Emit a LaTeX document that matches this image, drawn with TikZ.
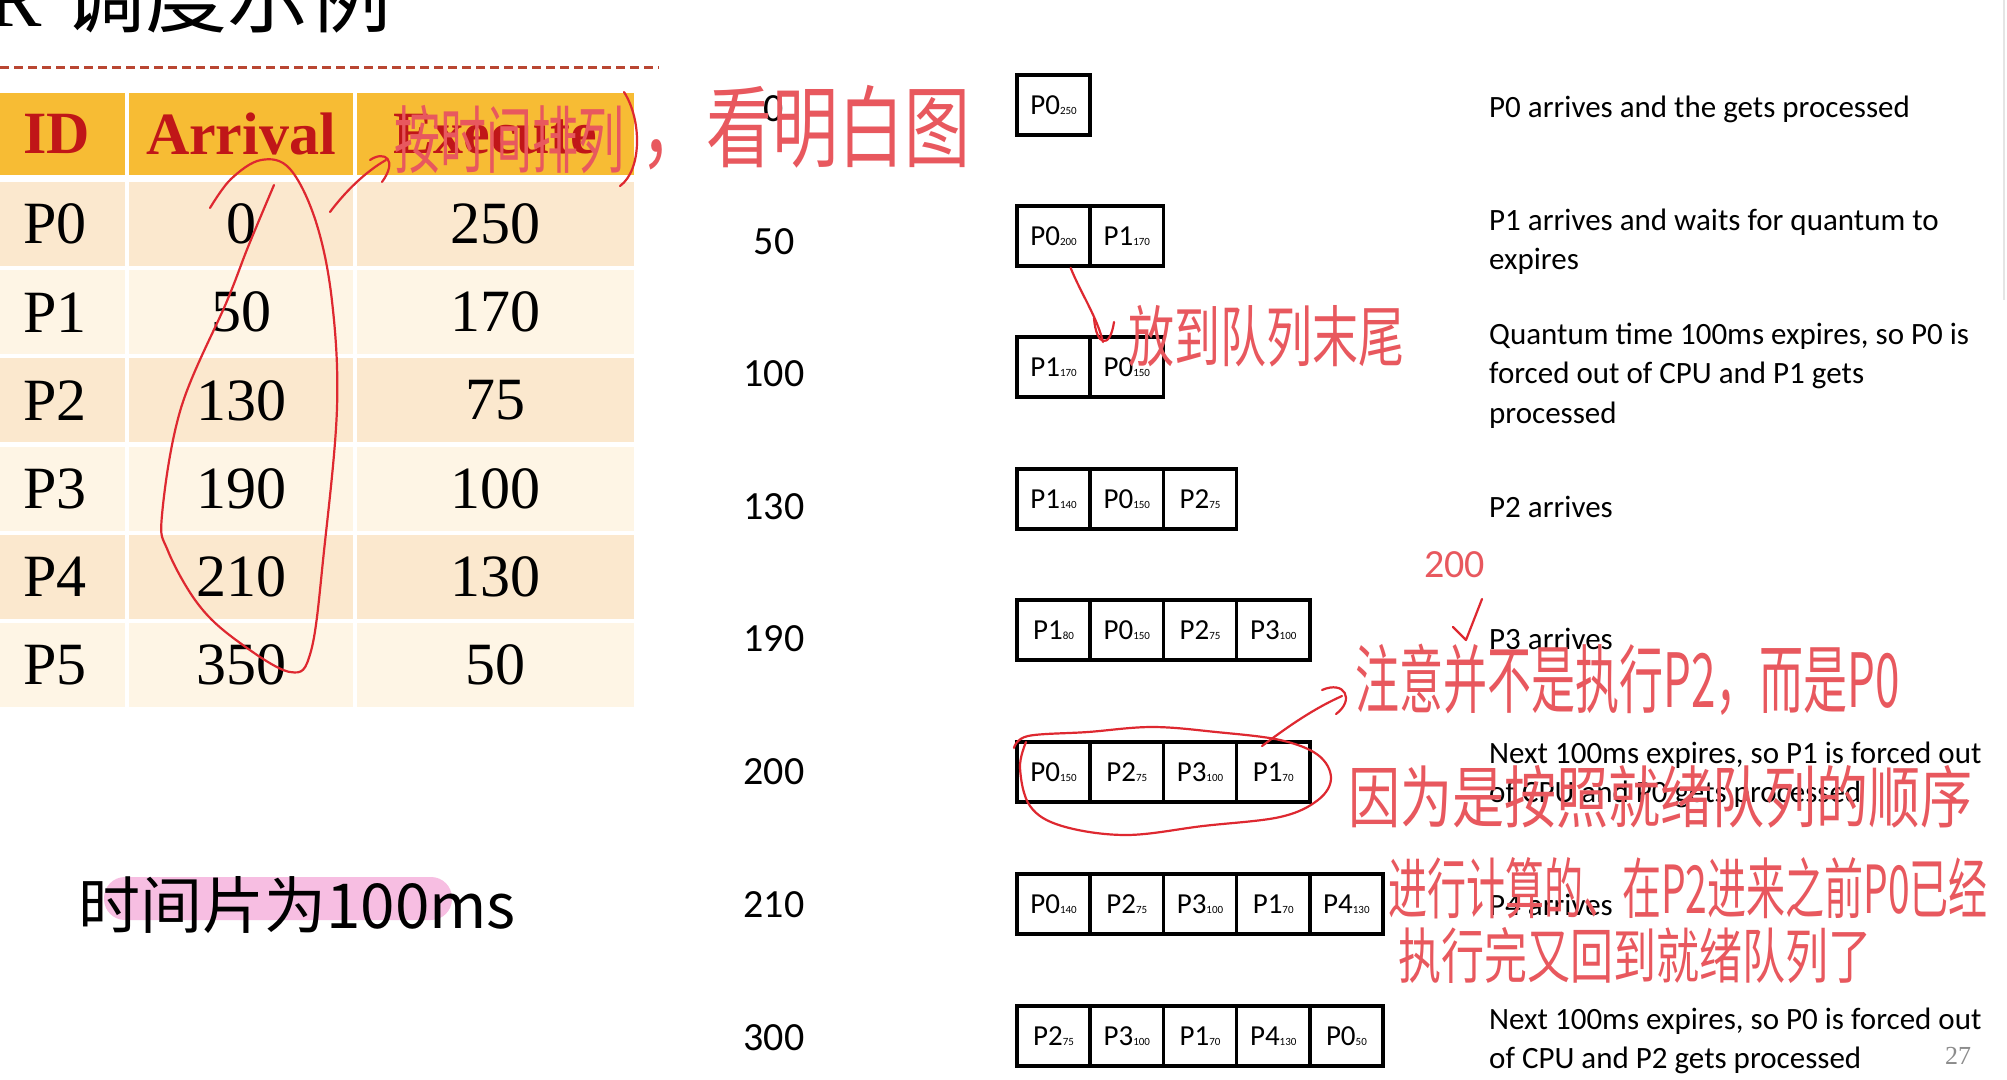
\documentclass[tikz,border=0pt]{standalone}
\usepackage{fontspec}
\setmainfont{Liberation Serif}
\newfontfamily\calib{Carlito}
\newfontfamily\cjkf{Noto Sans CJK SC}
\definecolor{hdr}{RGB}{247,188,52}
\definecolor{rowA}{RGB}{251,232,206}
\definecolor{rowB}{RGB}{254,245,229}
\definecolor{hdrtxt}{RGB}{192,22,24}
\definecolor{ink}{RGB}{222,40,48}
\definecolor{inktext}{RGB}{232,88,94}
\definecolor{dashc}{RGB}{185,70,50}
\definecolor{hilite}{RGB}{247,190,226}
\definecolor{pgnum}{RGB}{140,140,140}
\newcommand\fsz[1]{\fontsize{#1}{#1}\selectfont}
\tikzset{
  hdrtext/.style={inner sep=0, font=\bfseries\fsz{60}, text=hdrtxt},
  celltext/.style={inner sep=0, font=\fsz{60}},
  tlabel/.style={inner sep=0, font=\calib\fsz{40}},
  qbox/.style={draw, line width=3.6pt, minimum width=73.2pt, minimum height=60pt, inner sep=0, font=\calib\fsz{29}},
  desc/.style={anchor=base west, inner sep=0, font=\calib\fontsize{31}{39.5}\selectfont},
  hand/.style={draw=ink, line width=2.2pt, line cap=round, line join=round},
  hw/.style={inner sep=0, text=inktext, anchor=west},
}
\newcommand\qrow[3]{%
  \foreach \pa/\pb [count=\k] in {#3} {%
    \node[qbox] (q#1-\k) at ({1017+36.6+73.2*(\k-1)},#2) {\pa{\fsz{11}\pb}};
  }%
}
\begin{document}
\begin{tikzpicture}[x=1pt,y=-1pt]
\useasboundingbox (0,0) rectangle (2007,1079);
\clip (0,0) rectangle (2007,1079);
\fill[white] (0,0) rectangle (2007,1079);
\draw[black!10, line width=2pt] (2004,0) -- (2004,300);

% title
\node[anchor=base east, inner sep=0, font=\fsz{80}] (title) at (392,26) {RR\kern 22pt{\cjkf\fsz{82}调度示例}};
\draw[dashc, line width=3pt, dash pattern=on 9pt off 5pt] (0,67) -- (659,67);

% table
\fill[hdr] (0,93) rectangle (125,175);
\fill[hdr] (129,93) rectangle (353,175);
\fill[hdr] (357,93) rectangle (634,175);
\foreach \i in {0,...,5} {
  \pgfmathsetmacro\ty{182+88.2*\i}
  \pgfmathsetmacro\by{\ty+84}
  \ifodd\i \def\rc{rowB}\else\def\rc{rowA}\fi
  \fill[\rc] (0,\ty) rectangle (125,\by);
  \fill[\rc] (129,\ty) rectangle (353,\by);
  \fill[\rc] (357,\ty) rectangle (634,\by);
}
\node[hdrtext, anchor=west] (hID) at (23,134) {ID};
\node[hdrtext] (hArr) at (241,134) {Arrival};
\node[hdrtext] (hExe) at (495,134) {Execute};
\foreach \id/\arr/\exe [count=\i from 0] in {P0/0/250, P1/50/170, P2/130/75, P3/190/100, P4/210/130, P5/350/50} {
  \pgfmathsetmacro\cy{224+88.2*\i}
  \node[celltext, anchor=west] (id\i) at (23,\cy) {\id};
  \node[celltext] (arr\i) at (241,\cy) {\arr};
  \node[celltext] (exe\i) at (495,\cy) {\exe};
}

% quantum note
\fill[hilite, rounded corners=21pt] (104,877) rectangle (452,920);
\node[anchor=base west, inner sep=0, font=\cjkf\fsz{62}] (quantum) at (78,928) {时间片为100ms};

% time labels
\node[tlabel] (t0) at (774,109) {0};
\node[tlabel] (t1) at (774,242) {50};
\node[tlabel] (t2) at (774,374) {100};
\node[tlabel] (t3) at (774,507) {130};
\node[tlabel] (t4) at (774,639) {190};
\node[tlabel] (t5) at (774,772) {200};
\node[tlabel] (t6) at (774,905) {210};
\node[tlabel] (t7) at (774,1038) {300};

% queues
\qrow{a}{105}{P0/250}
\qrow{b}{236}{P0/200, P1/170}
\qrow{c}{367}{P1/170, P0/150}
\qrow{d}{499}{P1/140, P0/150, P2/75}
\qrow{e}{630}{P1/80, P0/150, P2/75, P3/100}
\qrow{f}{772}{P0/150, P2/75, P3/100, P1/70}
\qrow{g}{904}{P0/140, P2/75, P3/100, P1/70, P4/130}
\qrow{h}{1036}{P2/75, P3/100, P1/70, P4/130, P0/50}

% descriptions
\node[desc] (d0) at (1489,117.5) {\vtop{\hbox{P0 arrives and the gets processed}}};
\node[desc] (d1) at (1489,230) {\vtop{\hbox{P1 arrives and waits for quantum to}\hbox{expires}}};
\node[desc] (d2) at (1489,344) {\vtop{\hbox{Quantum time 100ms expires, so P0 is}\hbox{forced out of CPU and P1 gets}\hbox{processed}}};
\node[desc] (d3) at (1489,517) {\vtop{\hbox{P2 arrives}}};
\node[desc] (d4) at (1489,649) {\vtop{\hbox{P3 arrives}}};
\node[desc] (d5) at (1489,763) {\vtop{\hbox{Next 100ms expires, so P1 is forced out}\hbox{of CPU and P0 gets processed}}};
\node[desc] (d6) at (1489,915) {\vtop{\hbox{P4 arrives}}};
\node[desc] (d7) at (1489,1029) {\vtop{\hbox{Next 100ms expires, so P0 is forced out}\hbox{of CPU and P2 gets processed}}};
\node[inner sep=0, font=\fsz{26}, text=pgnum] (pg) at (1958,1056) {27};

% handwritten annotations
\draw[hand] plot[smooth, tension=0.6] coordinates {(274,185) (248,247) (227,301) (181,408) (162,515) (168,551) (198,604) (236,640) (290,672) (311,651) (324,551) (337,408) (332,301) (316,222) (290,169) (261,160) (231,179) (210,208)};
\coordinate (la) at (330,212);
\coordinate (lb) at (386,160);
\draw[hand] (la) .. controls (345,192) and (365,172) .. (lb);
\draw[hand] (370,160) .. controls (385,150) and (398,160) .. (382,182);
\node[hw, font=\cjkf\fsz{46}] (hw1) at (394,140) {\scalebox{1}[1.6]{按时间排列}};
\draw[hand] (624,92) .. controls (642,120) and (642,170) .. (620,186);
\node[hw, font=\cjkf\fsz{66}] (hw2) at (640,128) {\scalebox{1}[1.35]{，看明白图}};

\coordinate (bs) at ([xshift=17pt]qb-1.south);
\coordinate (be) at (1103,342);
\draw[hand] (bs) .. controls +(10,25) and +(-6,-25) .. (be);
\draw[hand] (1094,318) .. controls (1096,346) and (1110,350) .. (1114,322);
\node[hw, font=\cjkf\fsz{46}] (hw3) at (1128,336) {\scalebox{1}[1.45]{放到队列末尾}};

\node[hw, font=\calib\fsz{40}] (hw4) at (1424,565) {200};
\draw[hand] (1453,627) -- (1466,640) -- (1482,599);

\draw[hand] plot[smooth, tension=0.6] coordinates {(1014,748) (1028,736) (1088,732) (1152,727) (1216,732) (1280,740) (1318,755) (1331,778) (1318,800) (1280,817) (1203,826) (1126,835) (1062,826) (1030,806) (1020,768) (1026,742)};
\coordinate (ea) at (1262,746);
\coordinate (eb) at (1342,696);
\draw[hand] (ea) .. controls (1290,725) and (1315,708) .. (eb);
\draw[hand] (1322,690) .. controls (1345,680) and (1355,700) .. (1336,714);
\node[hw, font=\cjkf\fsz{44}] (hw5) at (1355,680) {\scalebox{1}[1.7]{注意并不是执行P2，而是P0}};
\node[hw, font=\cjkf\fsz{52}] (hw6) at (1348,797) {\scalebox{1}[1.3]{因为是按照就绪队列的顺序}};
\node[hw, font=\cjkf\fsz{39}] (hw7) at (1388,888) {\scalebox{1}[1.7]{进行计算的、在P2进来之前P0已经}};
\node[hw, font=\cjkf\fsz{43}] (hw8) at (1398,955) {\scalebox{1}[1.4]{执行完又回到就绪队列了}};
\end{tikzpicture}
\end{document}
